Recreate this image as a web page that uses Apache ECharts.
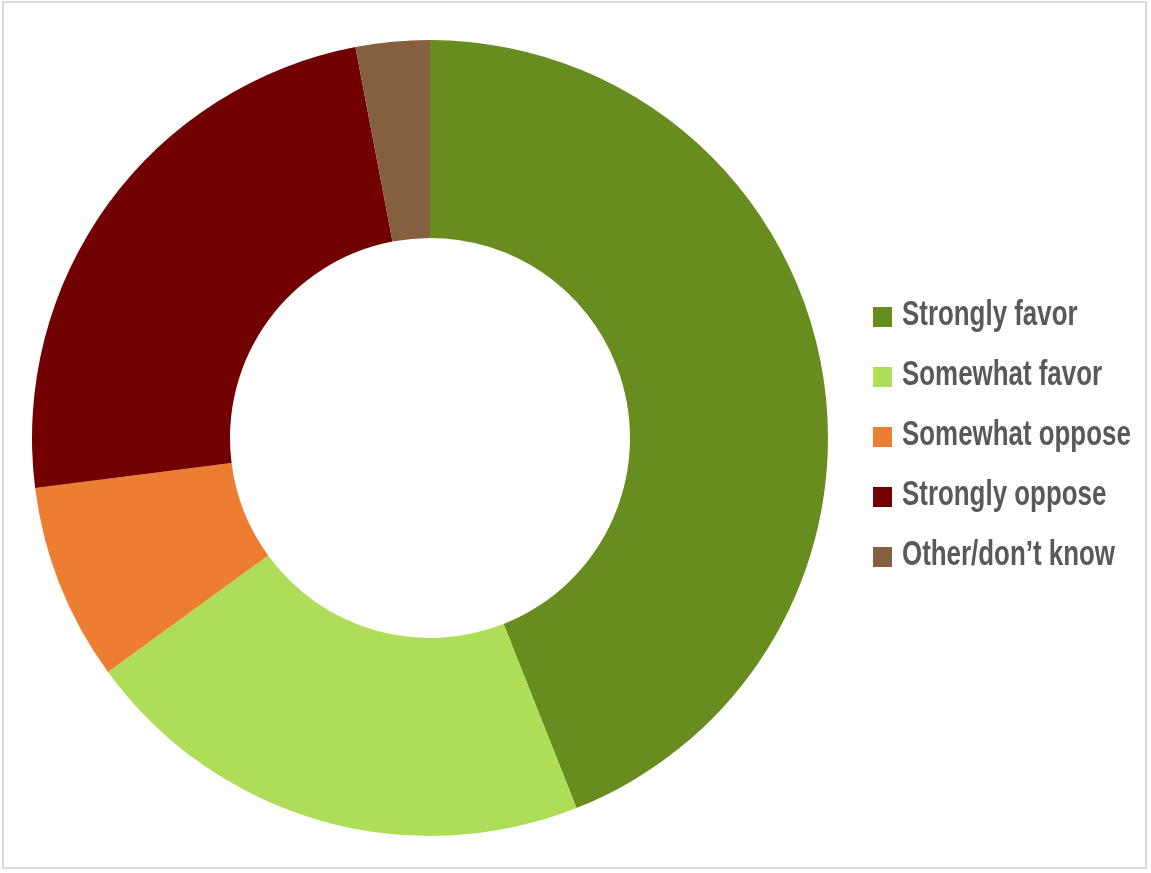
<!DOCTYPE html>
<html>
<head>
<meta charset="utf-8">
<script src="https://cdn.jsdelivr.net/npm/echarts@6/dist/echarts.min.js"></script>
<style>
html,body{margin:0;padding:0;background:#fff;}
#frame{position:absolute;left:2px;top:1px;width:1145px;height:868px;border:2px solid #d9d9d9;box-sizing:border-box;}
#chart{position:absolute;left:0;top:0;width:1151px;height:873px;}
</style>
</head>
<body>
<div id="frame"></div>
<div id="chart"></div>
<script>
const categories = ['Strongly favor', 'Somewhat favor', 'Somewhat oppose', 'Strongly oppose', 'Other/don\u2019t know'];
const values = [44, 21, 8, 24, 3];
const colors = ['#678D1F', '#AEDE58', '#ED7D31', '#720000', '#84603F'];

// legend drawn as graphic elements so the text can be horizontally condensed
const legendTop = 317, legendStep = 60;
const legendItems = [];
categories.forEach((c, i) => {
  const cy = legendTop + i * legendStep;
  legendItems.push({
    type: 'rect', silent: true,
    shape: { x: 873, y: cy - 10, width: 19, height: 20 },
    style: { fill: colors[i] }
  });
  legendItems.push({
    type: 'text', silent: true,
    x: 902, y: cy - 2, scaleX: 0.74,
    style: {
      text: c, x: 0, y: 0,
      font: 'bold 35px "Liberation Sans", Arial, sans-serif',
      fill: '#595959',
      verticalAlign: 'middle', align: 'left'
    }
  });
});

const chart = echarts.init(document.getElementById('chart'));
chart.setOption({
  animation: false,
  graphic: legendItems,
  series: [{
    type: 'pie',
    center: [430, 438],
    radius: [200, 398],
    startAngle: 90,
    clockwise: true,
    label: { show: false },
    labelLine: { show: false },
    emphasis: { disabled: true },
    itemStyle: { borderWidth: 0 },
    data: categories.map((c, i) => ({ name: c, value: values[i], itemStyle: { color: colors[i] } }))
  }]
});
</script>
</body>
</html>
